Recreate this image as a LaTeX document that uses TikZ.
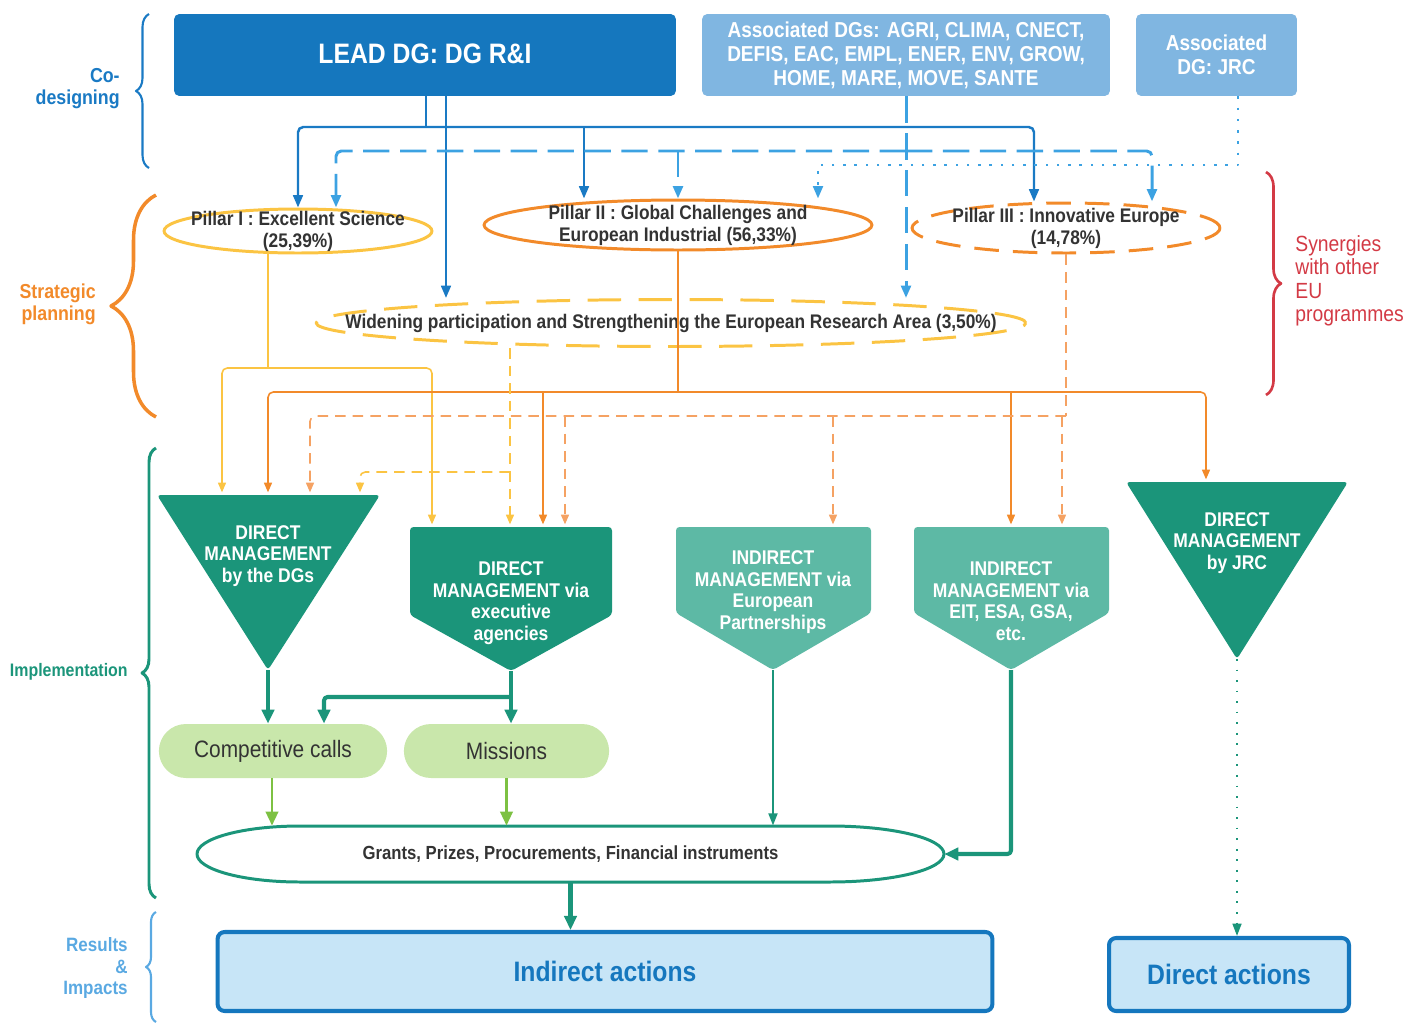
\documentclass[tikz,border=0pt]{standalone}
\usepackage{fontspec}
\setmainfont{Liberation Sans}[FakeStretch=0.88]
\usetikzlibrary{arrows.meta, positioning, calc, shapes.geometric, shapes.misc, decorations.pathreplacing}
\definecolor{leadblue}{HTML}{1577BE}
\definecolor{assocblue}{HTML}{80B6E1}
\definecolor{lineblue}{HTML}{1A7AC4}
\definecolor{dashblue}{HTML}{3CA2E2}
\definecolor{pyellow}{HTML}{FBC443}
\definecolor{porange}{HTML}{F28A2A}
\definecolor{lorange}{HTML}{F5A263}
\definecolor{dteal}{HTML}{1B957A}
\definecolor{lteal}{HTML}{5DB9A5}
\definecolor{pillgreen}{HTML}{C9E7AB}
\definecolor{arrgreen}{HTML}{7DC143}
\definecolor{synred}{HTML}{D33A45}
\definecolor{actfill}{HTML}{C7E5F7}
\definecolor{txtgray}{HTML}{333333}
\definecolor{resblue}{HTML}{5AA9E2}

\begin{document}
\begin{tikzpicture}[x=0.02cm, y=-0.02cm, line join=round,
  dgbox/.style={rectangle, rounded corners=3pt, text=white, align=center, inner sep=0pt, minimum height=1.64cm},
  pillar/.style={ellipse, inner sep=0pt, line width=1.7pt},
  ptext/.style={font=\fontsize{11.2}{12.5}\selectfont\bfseries, text=txtgray, align=center},
  mgmt/.style={font=\fontsize{11.3}{12.3}\selectfont\bfseries, text=white, align=center},
  pill/.style={rounded rectangle, fill=pillgreen, minimum height=1.08cm, font=\fontsize{13.5}{16}\selectfont, text=txtgray},
  action/.style={rectangle, rounded corners=4pt, fill=actfill, draw=leadblue, line width=2.3pt, font=\fontsize{16}{19}\selectfont\bfseries, text=leadblue},
  sidelabel/.style={font=\fontsize{11.5}{12.5}\selectfont\bfseries, align=right, anchor=east, inner sep=0pt},
  bline/.style={lineblue, line width=1.4pt, rounded corners=3pt},
  bdash/.style={dashblue, line width=1.7pt, dash pattern=on 15pt off 6pt, rounded corners=3pt},
  bdot/.style={dashblue, line width=1.5pt, dash pattern=on 1.4pt off 5pt},
  yline/.style={pyellow, line width=0.9pt, rounded corners=3pt},
  ydash/.style={pyellow, line width=0.9pt, dash pattern=on 6pt off 4pt, rounded corners=3pt},
  oline/.style={porange, line width=0.9pt, rounded corners=3pt},
  odash/.style={lorange, line width=0.9pt, dash pattern=on 6pt off 4pt, rounded corners=3pt},
  tline/.style={dteal, line width=2.3pt, rounded corners=2pt},
  garrow/.style={arrgreen, line width=1.7pt},
  barr/.style={-{Triangle[length=7pt, width=5.5pt]}},
  oarr/.style={-{Triangle[length=5.5pt, width=4.5pt]}, shorten >=1.5pt},
  tarr/.style={-{Triangle[length=8pt, width=7pt]}},
  cbrace/.style={decorate, decoration={brace, amplitude=#1}},
]
\useasboundingbox (0,0) rectangle (1421,1025);

% Braces and side labels
\draw[cbrace=0.26cm, lineblue, line width=1.2pt] (149,168) -- (149,14);
\node[sidelabel, text=lineblue] (lcod) at (120,89) {Co-\\designing};
\draw[cbrace=0.9cm, porange, line width=2pt] (156,417) -- (156,195);
\node[sidelabel, text=porange] (lstr) at (96,304) {Strategic\\planning};
\draw[cbrace=0.3cm, synred, line width=1.5pt] (1266,172) -- (1266,395);
\node[anchor=west, align=left, inner sep=0pt, text=synred, font=\fontsize{12.5}{13.3}\selectfont] (lsyn) at (1295,281) {Synergies\\with other\\EU\\programmes};
\draw[cbrace=0.28cm, dteal, line width=1.7pt] (156,898) -- (156,448);
\node[sidelabel, text=dteal, font=\fontsize{10.3}{12}\selectfont\bfseries] (limp) at (128,672) {Implementation};
\draw[cbrace=0.2cm, resblue, line width=1.2pt] (156,1022) -- (156,912);
\node[sidelabel, text=resblue, font=\fontsize{11}{12.2}\selectfont\bfseries] (lres) at (128,968) {Results\\\&\\Impacts};

% Co-designing DGs
\node[dgbox, fill=leadblue, minimum width=10.04cm, font=\fontsize{16}{19}\selectfont\bfseries] (lead) at (425,55) {\raisebox{2pt}{LEAD DG: DG R\&I}};
\node[dgbox, fill=assocblue, minimum width=8.16cm, font=\fontsize{12.3}{13.6}\selectfont\bfseries] (assoc) at (906,55) {Associated DGs: AGRI, CLIMA, CNECT,\\DEFIS, EAC, EMPL, ENER, ENV, GROW,\\HOME, MARE, MOVE, SANTE};
\node[dgbox, fill=assocblue, minimum width=3.22cm, font=\fontsize{12.3}{13.6}\selectfont\bfseries] (jrc) at (1216.5,55) {Associated\\DG: JRC};

% Pillars
\node[pillar, draw=pyellow, minimum width=5.36cm, minimum height=0.88cm, label={[ptext]center:{Pillar I : Excellent Science\\(25,39\%)}}] (p1) at (298,231) {};
\node[pillar, draw=porange, minimum width=7.76cm, minimum height=1cm, label={[ptext]center:{Pillar II : Global Challenges and\\European Industrial (56,33\%)}}] (p2) at (678,225) {};
\node[pillar, draw=porange, dash pattern=on 14pt off 8pt, minimum width=6.16cm, minimum height=1cm, label={[ptext]center:{Pillar III : Innovative Europe\\(14,78\%)}}] (p3) at (1066,228) {};
\node[pillar, draw=pyellow, dash pattern=on 19pt off 10pt, minimum width=14.2cm, minimum height=0.94cm, label={[ptext]center:{Widening participation and Strengthening the European Research Area (3,50\%)}}] (wid) at (671,323) {};

% Lead DG links
\coordinate (bj) at (426,127);
\coordinate (bw) at (446,127);
\draw[bline] (lead.south -| bj) -- (bj);
\draw[bline, barr] (bj) -| (p1.north);
\draw[bline, barr] (bj) -| (p3.north -| 1034,0);
\draw[bline, barr] (bj -| 584,0) -- (p2.north -| 584,0);
\draw[bline, barr] (lead.south -| bw) -- (wid.north -| bw);

% Associated DGs links
\coordinate (dj) at (906,151);
\draw[bdash, barr] (assoc.south) -- (wid.north -| assoc.south);
\draw[bdash, barr] (dj) -| (p1.north -| 336,0);
\draw[bdash, barr] (dj) -| (p3.north -| 1152,0);
\draw[bdash, barr] (dj -| p2.north) -- (p2.north);
\coordinate (dd) at (1238,165);
\draw[bdot, barr] (jrc.south -| dd) -- (dd) -- (dd -| 818,0) -- (p2.north -| 818,0);

% Management bodies
\coordinate (dgtop) at (268,495);
\coordinate (extop) at (511,527);
\coordinate (pttop) at (773,527);
\coordinate (eitop) at (1011,527);
\coordinate (jrtop) at (1237,482);
\coordinate (dgtip) at (268,670);
\coordinate (extip) at (511,671);
\coordinate (pttip) at (773,670);
\coordinate (eitip) at (1011,670);
\coordinate (jrtip) at (1237,659);
\fill[dteal, rounded corners=2pt] (157,495) -- (380,495) -- (dgtip) -- cycle;
\fill[dteal, rounded corners=2pt] (410,527) -- (612,527) -- (612,615) -- (extip) -- (410,615) -- cycle;
\fill[lteal, rounded corners=2pt] (676,527) -- (871,527) -- (871,613) -- (pttip) -- (676,613) -- cycle;
\fill[lteal, rounded corners=2pt] (914,527) -- (1109,527) -- (1109,613) -- (eitip) -- (914,613) -- cycle;
\fill[dteal, rounded corners=2pt] (1126,482) -- (1348,482) -- (jrtip) -- cycle;
\node[mgmt] (dgs) at (268,556) {DIRECT\\MANAGEMENT\\by the DGs};
\node[mgmt] (exec) at (511,603) {DIRECT\\MANAGEMENT via\\executive\\agencies};
\node[mgmt] (part) at (773,592) {INDIRECT\\MANAGEMENT via\\European\\Partnerships};
\node[mgmt] (eit) at (1011,601) {INDIRECT\\MANAGEMENT via\\EIT, ESA, GSA,\\etc.};
\node[mgmt] (jrcm) at (1237,543) {DIRECT\\MANAGEMENT\\by JRC};

% Pillar I flows
\coordinate (yj) at (268,368);
\draw[yline] (p1.south -| yj) -- (yj);
\draw[yline, oarr] (yj) -| (dgtop -| 222,0);
\draw[yline, oarr] (yj) -| (extop -| 432,0);

% Pillar II flows
\coordinate (oj) at (678,392);
\draw[oline] (p2.south) -- (oj);
\draw[oline, oarr] (oj) -| (dgtop);
\draw[oline, oarr] (oj) -| (jrtop -| 1206,0);
\draw[oline, oarr] (oj -| 543,0) -- (extop -| 543,0);
\draw[oline, oarr] (oj -| eitop) -- (eitop);

% Pillar III flows
\coordinate (dj3) at (1066,416);
\draw[odash] (p3.south) -- (dj3);
\draw[odash, oarr] (dj3) -| (dgtop -| 310,0);
\draw[odash, oarr] (dj3 -| 565,0) -- (extop -| 565,0);
\draw[odash, oarr] (dj3 -| 833,0) -- (pttop -| 833,0);
\draw[odash, oarr] (dj3 -| 1062,0) -- (eitop -| 1062,0);

% Widening flows
\coordinate (yk) at (510,472);
\draw[ydash, oarr] (wid.south -| yk) -- (extop -| yk);
\draw[ydash, oarr] (yk) -| (dgtop -| 360,0);

% Calls and missions
\node[pill, minimum width=4.8cm] (calls) at (273,751) {Competitive calls};
\node[pill, minimum width=4.34cm] (miss) at (506.5,751) {Missions};
\coordinate (exsplit) at (511,697);
\draw[tline, tarr] (dgtip) -- (calls.north -| dgtip);
\draw[tline] (extip) -- (exsplit);
\draw[tline, tarr] (exsplit) -| (calls.north -| 324,0);
\draw[tline, tarr] (exsplit) -- (miss.north -| exsplit);

% Instruments
\node[minimum width=14.94cm, minimum height=1.12cm, inner sep=0pt, font=\fontsize{10.8}{12}\selectfont\bfseries, text=txtgray] (grants) at (570.5,854) {Grants, Prizes, Procurements, Financial instruments};
\draw[dteal, line width=1.7pt] (300,826) -- (830,826) .. controls (893,826) and (944,838.5) .. (944,854) .. controls (944,869.5) and (893,882) .. (830,882) -- (300,882) .. controls (243,882) and (197,869.5) .. (197,854) .. controls (197,838.5) and (243,826) .. (300,826) -- cycle;
\draw[garrow, tarr] (calls.south -| 272,0) -- (grants.north -| 272,0);
\draw[garrow, tarr] (miss.south) -- (grants.north -| miss.south);
\draw[dteal, line width=1.4pt, -{Triangle[length=7pt, width=5pt]}] (pttip) -- (grants.north -| pttip);
\draw[tline, tarr] (eitip) |- (grants.east);

% Results
\node[action, minimum width=15.5cm, minimum height=1.58cm] (ind) at (605,971.5) {Indirect actions};
\node[action, minimum width=4.8cm, minimum height=1.46cm] (dir) at (1229,974.5) {Direct actions};
\draw[tline, tarr] (grants.south) -- (grants.south |- ind.north);
\draw[dteal, line width=1.2pt, dash pattern=on 1pt off 5pt, -{Triangle[length=7pt, width=5pt]}] (jrtip) -- (dir.north -| jrtip);

\end{tikzpicture}
\end{document}
